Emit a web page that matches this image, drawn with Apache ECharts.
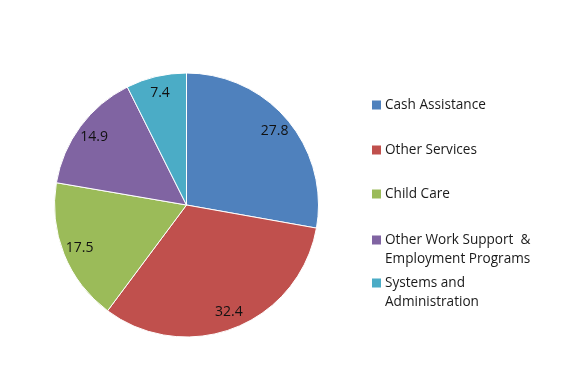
<!DOCTYPE html>
<html><head><meta charset="utf-8">
<script src="https://cdn.jsdelivr.net/npm/echarts@6/dist/echarts.min.js"></script>
<style>html,body{margin:0;padding:0;background:#fff}#c{width:573px;height:370px}</style>
</head><body><div id="c"></div>
<script>
var categories = ['Cash Assistance','Other Services','Child Care','Other Work Support  & Employment Programs','Systems and Administration'];
var legendText = ['Cash Assistance','Other Services','Child Care','Other Work Support  &\nEmployment Programs','Systems and\nAdministration'];
var values = [27.8, 32.4, 17.5, 14.9, 7.4];
var colors = ['#4F81BD','#C0504D','#9BBB59','#8064A2','#4BACC6'];
var legendTops = [95.5, 140.5, 184.5, 230.5, 273.5];

var data = categories.map(function(n,i){return {name:n, value:values[i], itemStyle:{color:colors[i]}};});
var tallIcon = 'path://M0,0L9,0L9,9L0,9Z M0,28L9,28';
var legends = categories.map(function(n,i){
  var two = legendText[i].indexOf('\n')>=0;
  return {
    data:[n], orient:'vertical', left:372, top:legendTops[i], padding:0,
    itemWidth:9, itemHeight: two?28:9, icon: two?tallIcon:'rect', itemGap:4,
    itemStyle:{borderWidth:0},
    selectedMode:false,
    formatter:function(){return legendText[i];},
    textStyle:{fontFamily:'Open Sans', fontSize:13.6, color:'#1a1a1a', lineHeight:19, padding:[0,0,0,-1]}
  };
});
var chart = echarts.init(document.getElementById('c'));
chart.setOption({
  animation:false,
  backgroundColor:'#fff',
  legend: legends,
  series:[{
    type:'pie', center:[186.5,205], radius:[0,132], startAngle:90, clockwise:true,
    data:data, label:{show:false}, labelLine:{show:false},
    itemStyle:{borderColor:'#fff', borderWidth:1}, emphasis:{disabled:true}, silent:true
  },{
    type:'pie', center:[186.5,205], radius:[88,136], startAngle:90, clockwise:true,
    data:categories.map(function(n,i){return {name:n,value:values[i]};}),
    itemStyle:{color:'rgba(0,0,0,0)'}, legendHoverLink:false,
    label:{show:true, position:'inside', formatter:function(p){return p.value.toFixed(1);}, fontFamily:'Open Sans', fontSize:14, color:'#111'},
    labelLine:{show:false}, emphasis:{disabled:true}, silent:true
  }]
});
</script></body></html>
